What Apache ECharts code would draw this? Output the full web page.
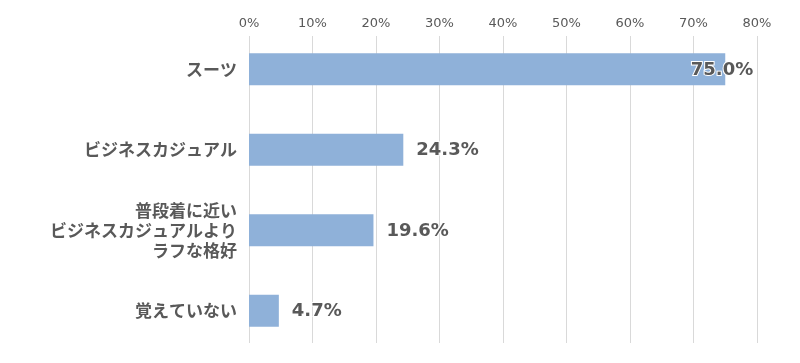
<!DOCTYPE html>
<html><head><meta charset="utf-8">
<script src="https://cdn.jsdelivr.net/npm/echarts@6/dist/echarts.min.js"></script>
<style>html,body{margin:0;padding:0;background:#fff}#c{width:800px;height:363px}</style>
</head><body><div id="c"></div>
<script>
const categories = ['スーツ', 'ビジネスカジュアル', '普段着に近い\nビジネスカジュアルより\nラフな格好', '覚えていない'];
const values = [0.750, 0.243, 0.196, 0.047];
const axisMin = 0, axisMax = 0.8, axisInterval = 0.1;

const textColor = '#595959';
const fontFam = '"Noto Sans CJK JP", "Noto Sans", sans-serif';
const chart = echarts.init(document.getElementById('c'), null, {renderer: 'canvas'});
chart.setOption({
  animation: false,
  backgroundColor: '#fff',
  grid: [
    {left: 249, right: 43, top: 29, bottom: 12},
    {left: 249, right: 43, top: 36, bottom: 20}
  ],
  xAxis: [
    {gridIndex: 0, type: 'value', min: axisMin, max: axisMax, show: false, splitLine: {show: false}},
    {gridIndex: 1, type: 'value', position: 'top', min: axisMin, max: axisMax, interval: axisInterval,
     axisLine: {show: false}, axisTick: {show: false},
     axisLabel: {color: textColor, fontSize: 13, fontFamily: '"DejaVu Sans", sans-serif', margin: 6,
       formatter: v => Math.round(v * 100) + '%'},
     splitLine: {show: true, lineStyle: {color: '#d9d9d9', width: 1}}}
  ],
  yAxis: [
    {gridIndex: 0, type: 'category', data: categories, inverse: true,
     axisLine: {show: false}, axisTick: {show: false},
     axisLabel: {color: textColor, fontSize: 17, fontWeight: 'bold', fontFamily: fontFam, margin: 12, lineHeight: 20, align: 'right'}},
    {gridIndex: 1, type: 'value', min: 0, max: 1, show: false, splitLine: {show: false}}
  ],
  series: [{
    type: 'bar', xAxisIndex: 0, yAxisIndex: 0, barWidth: 32,
    itemStyle: {color: '#8fb1d9'},
    data: values.map((v, i) => ({
      value: v,
      label: i === 0 ? {position: 'insideRight', offset: [41, 1]} : {}
    })),
    label: {show: true, position: 'right', distance: 13, offset: [0, 1], color: textColor, fontSize: 18, fontWeight: 'bold',
      fontFamily: '"DejaVu Sans", sans-serif', textBorderColor: '#fff', textBorderWidth: 2,
      formatter: p => (p.value * 100).toFixed(1) + '%'}
  }]
});
</script></body></html>
